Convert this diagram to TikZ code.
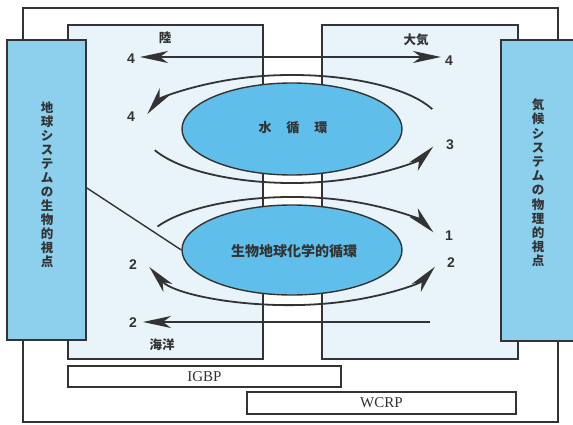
\documentclass[tikz,border=0pt]{standalone}
\usepackage{fontspec}
\setmainfont{Liberation Serif}
\newfontfamily\jp{Noto Sans CJK JP}
\newfontfamily\num{Liberation Sans}
\usetikzlibrary{arrows.meta,calc,shapes.geometric}
\definecolor{panel}{HTML}{E8F4FA}
\definecolor{side}{HTML}{8CD0EE}
\definecolor{ell}{HTML}{5FBEEA}
\definecolor{ink}{HTML}{333333}
\tikzset{
  tip/.tip={Stealth[length=28pt,width=12pt,inset=8pt]},
  box/.style={draw=ink, line width=1.4pt, inner sep=0pt},
  arr/.style={draw=ink, line width=1.8pt, -tip},
  barr/.style={draw=ink, line width=1.8pt, tip-tip},
  curve/.style={draw=ink, line width=1.8pt},
  numlab/.style={font=\num\bfseries\fontsize{14}{14}\selectfont, text=ink, inner sep=0pt},
  jplab/.style={font=\jp\bfseries\fontsize{12.5}{14}\selectfont, text=ink, inner sep=0pt},
  vtext/.style={font=\jp\bfseries\fontsize{12.5}{14}\selectfont, text=ink, align=center, inner sep=0pt},
  cyc/.style={ellipse, draw=ink, line width=1.4pt, fill=ell, inner sep=0pt},
  prog/.style={draw=ink, line width=1.4pt, fill=white, inner sep=0pt, font=\fontsize{15}{15}\selectfont, text=ink}
}
\begin{document}
\begin{tikzpicture}[x=1pt,y=-1pt]
\useasboundingbox (0,0) rectangle (573,425);
% outer frame
\node[box, fill=white, minimum width=535, minimum height=414] (frame) at (290.5,215) {};
% panels
\node[box, fill=panel, minimum width=195, minimum height=334] (land) at (165.5,192) {};
\node[box, fill=panel, minimum width=196, minimum height=334] (air) at (420,192) {};
% side boxes
\node[box, fill=side, minimum width=79, minimum height=300] (lbox) at (46.5,190) {};
\node[box, fill=side, minimum width=73, minimum height=301] (rbox) at (537.5,190.5) {};
\node[vtext] (ltext) at (47,185) {地\\球\\シ\\ス\\テ\\ム\\の\\生\\物\\的\\視\\点};
\node[vtext, font=\jp\bfseries\fontsize{12.5}{14.2}\selectfont] (rtext) at (538,183) {気\\候\\シ\\ス\\テ\\ム\\の\\物\\理\\的\\視\\点};
% programme boxes
\node[prog, minimum width=273, minimum height=21] (igbp) at (204.5,376.5) {IGBP};
\node[prog, minimum width=269, minimum height=22] (wcrp) at (381.5,403) {WCRP};
% region labels
\node[jplab] (riku) at (165,38) {陸};
\node[jplab] (taiki) at (416,40) {大気};
\node[jplab] (kaiyo) at (162,345) {海洋};
% cycles
\node[cyc, minimum width=220, minimum height=92] (water) at (292,129) {};
\node[jplab, font=\jp\bfseries\fontsize{13}{14}\selectfont] (wtext) at (293,128) {水\hspace{15pt}循\hspace{15pt}環};
\node[cyc, minimum width=220, minimum height=90] (bgc) at (292,250) {};
\node[jplab, font=\jp\bfseries\fontsize{14}{14}\selectfont] (btext) at (294,251) {生物地球化学的循環};
% diagonal link
\draw[curve, line width=1.4pt] ($(lbox.north east)!0.493!(lbox.south east)$) -- (bgc.west);
% number labels
\node[numlab] (n4a) at (131,59) {4};
\node[numlab] (n4b) at (449,61) {4};
\node[numlab] (n4c) at (131,117) {4};
\node[numlab] (n3) at (450,145) {3};
\node[numlab] (n1) at (449,236) {1};
\node[numlab] (n2r) at (451,263) {2};
\node[numlab] (n2a) at (133,265) {2};
\node[numlab] (n2b) at (133,323) {2};
% connector end points
\coordinate (t4l) at (140,57);
\coordinate (t4r) at (441,57);
\coordinate (b2l) at (143,322);
\coordinate (b2r) at (430,322);
\coordinate (wc) at (292,128);
\coordinate (bc) at (292,250);
% straight arrows
\draw[barr] (t4l) -- (t4r);
\draw[arr] (b2r) -- (b2l);
% arcs around water cycle
\draw[arr] ($(wc)+(-20.8:150 and 53)$) arc[start angle=-20.8, end angle=-164.7, x radius=150, y radius=53];
\draw[arr] ($(wc)+(156.2:150 and 55)$) arc[start angle=156.2, end angle=19.8, x radius=150, y radius=55];
% arcs around biogeochemical cycle
\draw[arr] ($(bc)+(-153.7:150 and 53)$) arc[start angle=-153.7, end angle=-19.5, x radius=150, y radius=53];
\draw[barr] ($(bc)+(162:150 and 55)$) arc[start angle=162, end angle=17.8, x radius=150, y radius=55];
\end{tikzpicture}
\end{document}
